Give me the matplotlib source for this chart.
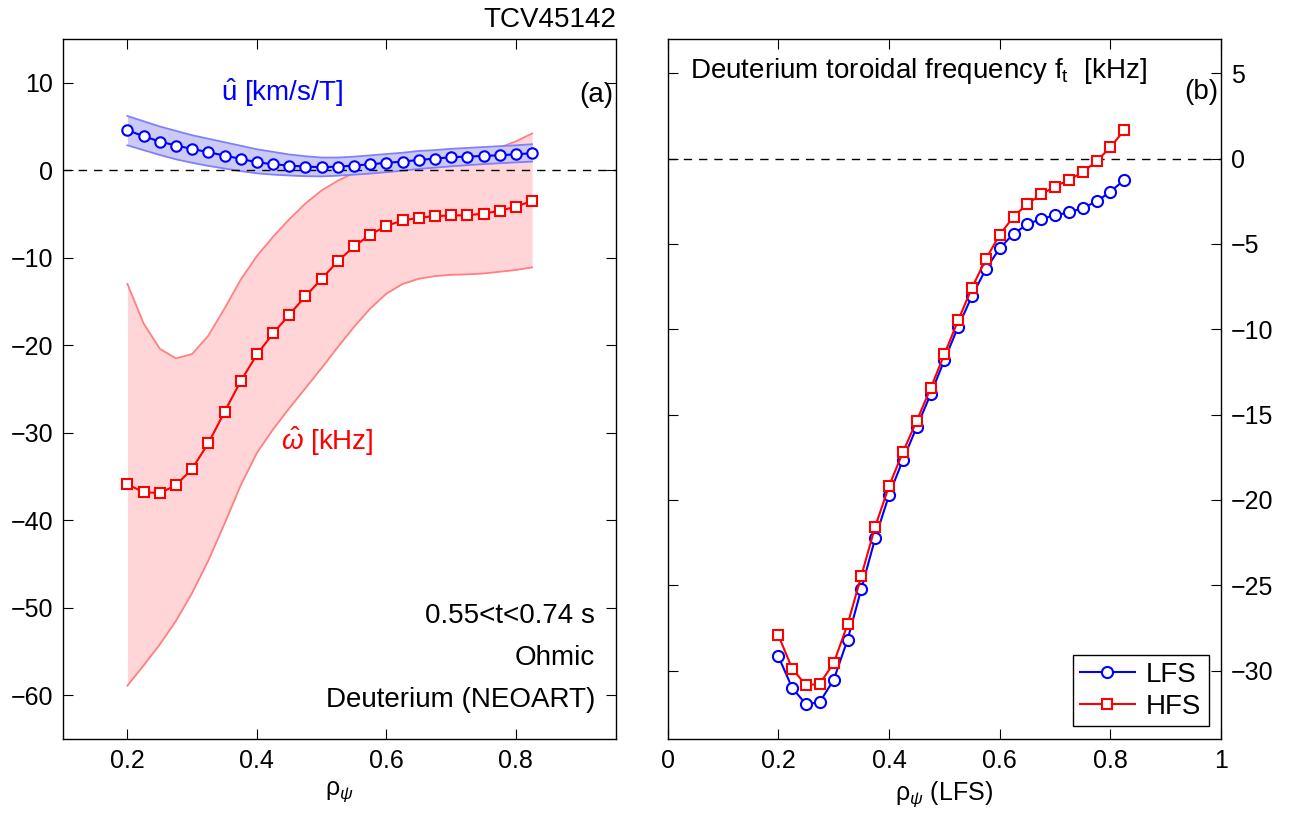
import numpy as np
import matplotlib
matplotlib.use('Agg')
import matplotlib.pyplot as plt

plt.rcParams['font.family'] = ['Liberation Sans', 'DejaVu Sans']
plt.rcParams['mathtext.fontset'] = 'custom'
plt.rcParams['mathtext.rm'] = 'Liberation Sans'
plt.rcParams['mathtext.it'] = 'Liberation Sans:italic'
plt.rcParams['font.size'] = 18

TXT = 20  # annotation size
TCK = 18  # tick label size

# radial grid (rho_psi)
rho = [0.2, 0.225, 0.25, 0.275, 0.3, 0.325, 0.35, 0.375, 0.4, 0.425, 0.45, 0.475, 0.5,
       0.525, 0.55, 0.575, 0.6, 0.625, 0.65, 0.675, 0.7, 0.725, 0.75, 0.775, 0.8, 0.825]

# panel (a): u hat [km/s/T]
u_hat = [4.57, 3.89, 3.28, 2.82, 2.44, 2.06, 1.68, 1.30, 0.91, 0.69, 0.53, 0.42, 0.34,
         0.42, 0.53, 0.69, 0.84, 0.99, 1.18, 1.33, 1.49, 1.56, 1.64, 1.71, 1.83, 1.94]
u_hi = [6.2, 5.6, 5.0, 4.5, 4.0, 3.6, 3.2, 2.8, 2.4, 2.1, 1.8, 1.6, 1.45,
        1.45, 1.55, 1.7, 1.85, 2.0, 2.2, 2.3, 2.45, 2.55, 2.65, 2.75, 2.85, 2.97]
u_lo = [2.85, 2.3, 1.75, 1.25, 0.85, 0.5, 0.2, -0.1, -0.35, -0.5, -0.6, -0.68, -0.7,
        -0.62, -0.5, -0.38, -0.22, -0.05, 0.15, 0.3, 0.45, 0.58, 0.7, 0.8, 0.9, 0.99]

# panel (a): omega hat [kHz]
w_hat = [-35.9, -36.8, -36.9, -36.0, -34.1, -31.2, -27.6, -24.1, -21.05, -18.65, -16.5, -14.4, -12.4,
         -10.4, -8.7, -7.37, -6.35, -5.74, -5.43, -5.24, -5.17, -5.13, -4.97, -4.63, -4.17, -3.49]
w_hi = [-13.0, -17.5, -20.4, -21.5, -21.0, -18.9, -15.8, -12.5, -9.8, -7.6, -5.6, -3.8, -2.3,
        -1.2, -0.3, 0.3, 0.7, 1.0, 1.2, 1.4, 1.6, 1.8, 2.1, 2.6, 3.3, 4.2]
w_lo = [-58.9, -56.6, -54.2, -51.5, -48.3, -44.6, -40.4, -36.0, -32.3, -29.6, -27.2, -24.9, -22.6,
        -20.2, -17.9, -15.8, -14.1, -13.0, -12.4, -12.1, -11.95, -11.9, -11.8, -11.6, -11.4, -11.1]

# panel (b): toroidal frequency [kHz]
f_lfs = [-29.16, -31.01, -31.97, -31.83, -30.53, -28.19, -25.2, -22.24, -19.71, -17.66, -15.73, -13.82, -11.81,
         -9.84, -8.05, -6.47, -5.26, -4.4, -3.86, -3.53, -3.33, -3.16, -2.9, -2.51, -1.95, -1.25]
f_hfs = [-27.93, -29.88, -30.86, -30.76, -29.55, -27.29, -24.43, -21.56, -19.18, -17.2, -15.36, -13.47, -11.46,
         -9.47, -7.56, -5.89, -4.46, -3.41, -2.65, -2.1, -1.64, -1.25, -0.8, -0.16, 0.66, 1.66]

fig = plt.figure(figsize=(12.92, 8.16), dpi=100)
ax1 = fig.add_axes([0.0485, 0.0944, 0.4285, 0.8578])
ax2 = fig.add_axes([0.5168, 0.0944, 0.4283, 0.8578])

# --- panel (a)
ax1.fill_between(rho, w_lo, w_hi, color='#ffd5d8', lw=0, zorder=1)
ax1.plot(rho, w_hi, color='#ff8080', lw=1.3, zorder=2)
ax1.plot(rho, w_lo, color='#ff8080', lw=1.3, zorder=2)
ax1.fill_between(rho, u_lo, u_hi, color='#cacaf5', lw=0, zorder=3)
ax1.plot(rho, u_hi, color='#8080ff', lw=1.3, zorder=4)
ax1.plot(rho, u_lo, color='#8080ff', lw=1.3, zorder=4)
ax1.axhline(0, color='k', ls=(0, (6, 5)), lw=1.0, zorder=5)
ax1.plot(rho, w_hat, '-s', color='red', mfc='white', mec='red', ms=7, mew=1.5, lw=1.5, zorder=6)
ax1.plot(rho, u_hat, '-o', color='blue', mfc='white', mec='blue', ms=7.5, mew=1.5, lw=1.5, zorder=6)

ax1.set_xlim(0.1, 0.955)
ax1.set_ylim(-65, 15)
ax1.set_xticks([0.2, 0.4, 0.6, 0.8])
ax1.set_yticks([10, 0, -10, -20, -30, -40, -50, -60])
ax1.set_yticklabels(['10', '0', '\u221210', '\u221220', '\u221230', '\u221240', '\u221250', '\u221260'])
ax1.set_xlabel('\u03c1$_\u03c8$', fontsize=TCK, labelpad=5)

ax1.text(0.345, 8.9, '$\\hat{\\mathrm{u}}$ [km/s/T]', color='blue', va='center', ha='left', fontsize=TXT)
ax1.text(0.437, -31.0, '$\\hat{\\omega}$ [kHz]', color='red', va='center', ha='left', fontsize=TXT)
ax1.text(0.95, 8.6, '(a)', ha='right', va='center', fontsize=TXT)
ax1.text(0.922, -51.0, '0.55<t<0.74 s', ha='right', va='center', fontsize=TXT)
ax1.text(0.922, -55.8, 'Ohmic', ha='right', va='center', fontsize=TXT)
ax1.text(0.922, -60.6, 'Deuterium (NEOART)', ha='right', va='center', fontsize=TXT)
ax1.text(1.0, 1.008, 'TCV45142', transform=ax1.transAxes, ha='right', va='bottom', fontsize=TXT)

# --- panel (b)
ax2.axhline(0, color='k', ls=(0, (6, 5)), lw=1.0, zorder=1)
ax2.plot(rho, f_lfs, '-o', color='blue', mfc='white', mec='blue', ms=8, mew=1.5, lw=1.5, label='LFS', zorder=3)
ax2.plot(rho, f_hfs, '-s', color='red', mfc='white', mec='red', ms=7, mew=1.5, lw=1.5, label='HFS', zorder=4)

ax2.set_xlim(0, 1)
ax2.set_ylim(-34, 7)
ax2.set_xticks([0, 0.2, 0.4, 0.6, 0.8, 1])
ax2.set_xticklabels(['0', '0.2', '0.4', '0.6', '0.8', '1'])
ax2.set_yticks([5, 0, -5, -10, -15, -20, -25, -30])
ax2.set_yticklabels(['5', '0', '\u22125', '\u221210', '\u221215', '\u221220', '\u221225', '\u221230'])
ax2.tick_params(axis='y', labelleft=False, labelright=True)
ax2.set_xlabel('\u03c1$_\u03c8$ (LFS)', fontsize=TCK, labelpad=5)

ax2.text(0.04, 5.1, 'Deuterium toroidal frequency f$_\\mathregular{t}$  [kHz]', ha='left', va='center', fontsize=TXT)
ax2.text(0.995, 3.9, '(b)', ha='right', va='center', fontsize=TXT)

leg = ax2.legend(loc='lower right', fontsize=TXT, frameon=True, fancybox=False,
                 edgecolor='black', framealpha=1, borderaxespad=0.45, handlelength=2.0,
                 borderpad=0.25, labelspacing=0.2, handletextpad=0.4)
leg.get_frame().set_linewidth(1.0)

for ax in (ax1, ax2):
    ax.tick_params(direction='in', top=True, right=True, left=True, bottom=True,
                   length=7, width=0.8, pad=7, labelsize=TCK)
    for sp in ax.spines.values():
        sp.set_linewidth(1.0)

fig.savefig('out.png', dpi=100)
